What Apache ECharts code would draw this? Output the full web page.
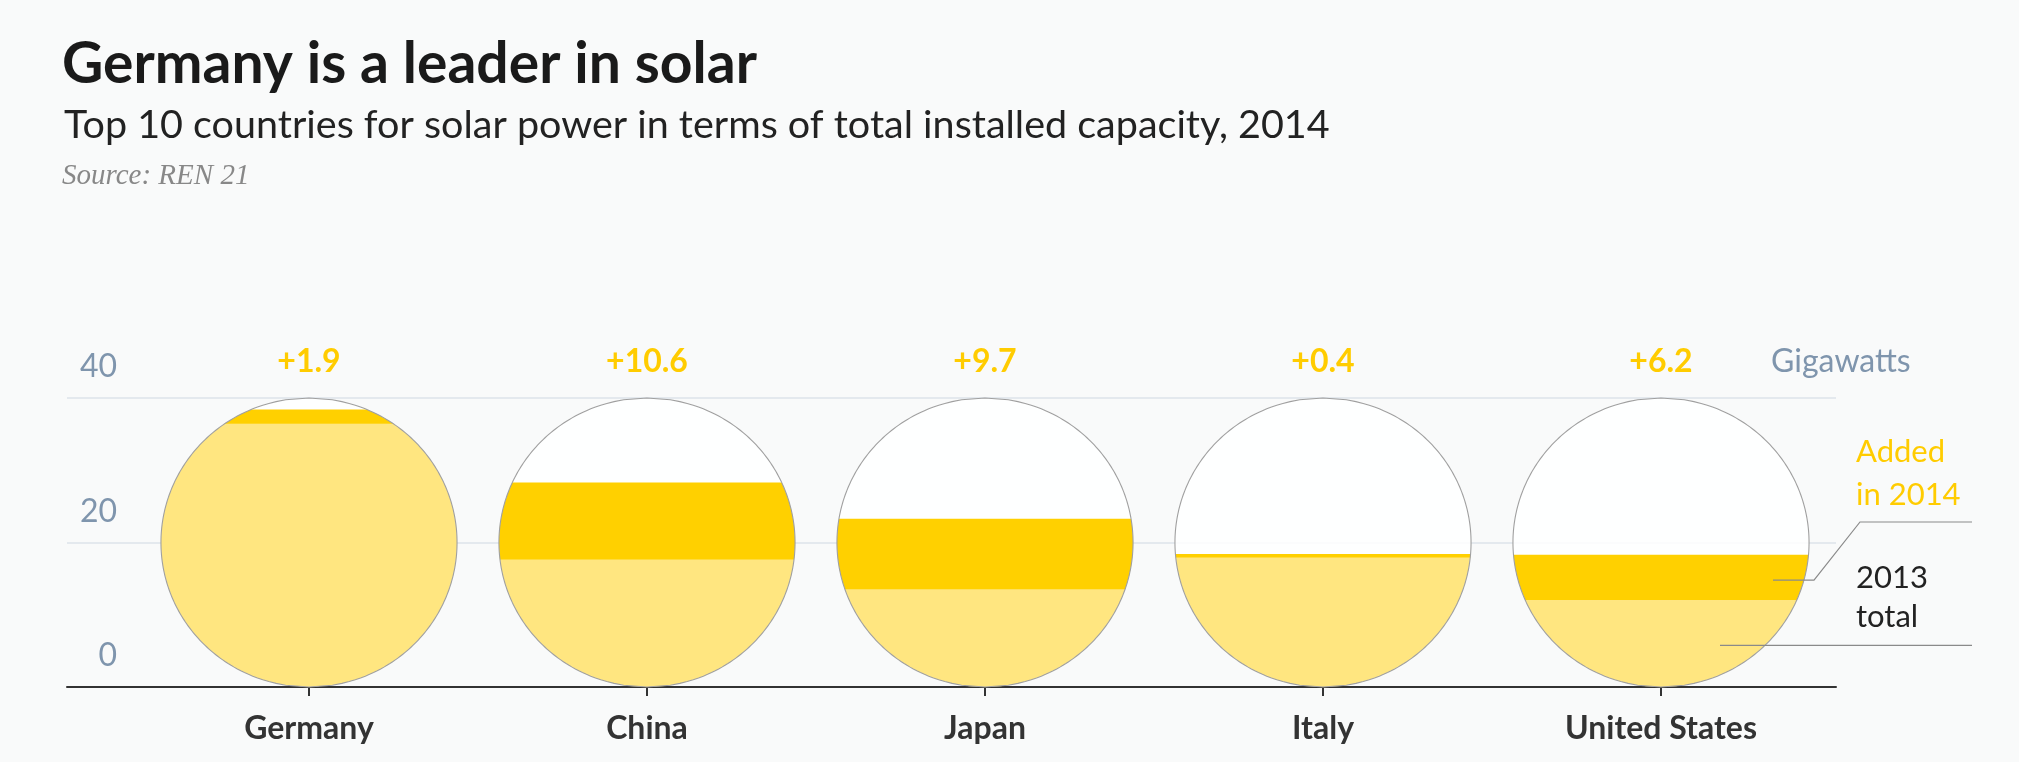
<!DOCTYPE html>
<html>
<head>
<meta charset="utf-8">
<script src="https://cdn.jsdelivr.net/npm/echarts@6/dist/echarts.min.js"></script>
<style>
html,body{margin:0;padding:0;background:#f9fafa;}
#chart{width:2019px;height:762px;}
</style>
</head>
<body>
<div id="chart"></div>
<script>
// ---- data ----
const categories = ['Germany', 'China', 'Japan', 'Italy', 'United States'];
const total2013 = [36.5, 17.7, 13.6, 18.0, 12.1];
const added2014 = [1.9, 10.6, 9.7, 0.4, 6.2];
const yTicks = [0, 20, 40];
const yMax = 40;

const DARK = '#FFD000';
const LIGHT = '#FFE680';
const FONT = 'Lato';

function bandPolygon(cx, cy, rx, ry, yTop, yBot, n) {
  yTop = Math.max(yTop, cy - ry);
  yBot = Math.min(yBot, cy + ry);
  const left = [], right = [];
  for (let i = 0; i <= n; i++) {
    const y = yTop + (yBot - yTop) * i / n;
    const t = (y - cy) / ry;
    const dx = rx * Math.sqrt(Math.max(0, 1 - t * t));
    left.push([cx - dx, y]);
    right.push([cx + dx, y]);
  }
  return left.concat(right.reverse());
}

const seriesData = categories.map((c, i) => [i, total2013[i], added2014[i]]);

const chart = echarts.init(document.getElementById('chart'), null, {renderer: 'canvas'});

const option = {
  backgroundColor: '#f9fafa',
  animation: false,
  grid: [
    {left: 67, right: 183, top: 398, bottom: 75, containLabel: false},
    {left: 140, right: 189, top: 398, bottom: 75, containLabel: false}
  ],
  xAxis: [
    {
      gridIndex: 0, type: 'value', min: 0, max: 1,
      axisLine: {show: true, onZero: false, lineStyle: {color: '#333', width: 2}},
      axisTick: {show: false}, axisLabel: {show: false}, splitLine: {show: false}
    },
    {
      gridIndex: 1, type: 'category', data: categories, boundaryGap: true,
      axisLine: {show: false},
      axisTick: {show: true, alignWithLabel: true, length: 9, lineStyle: {color: '#333', width: 2}},
      axisLabel: {color: '#333', fontFamily: FONT, fontWeight: 'bold', fontSize: 32, margin: 26}
    }
  ],
  yAxis: [
    {
      gridIndex: 0, type: 'value', min: 0, max: yMax, interval: 20,
      axisLine: {show: false},
      axisTick: {show: false},
      splitLine: {show: true, lineStyle: {color: '#dde3ea', width: 1.5}},
      axisLabel: {
        inside: true, align: 'right', margin: 50,
        color: '#7f95ad', fontFamily: FONT, fontSize: 32,
        lineHeight: 62, verticalAlign: 'bottom',
        formatter: v => yTicks.indexOf(v) >= 0 ? String(v) : ''
      }
    },
    {gridIndex: 1, type: 'value', min: 0, max: yMax, show: false}
  ],
  series: [{
    type: 'custom',
    xAxisIndex: 1, yAxisIndex: 1,
    data: seriesData,
    encode: {x: 0, y: 1},
    clip: false,
    z: 5,
    renderItem: function (params, api) {
      const idx = api.value(0);
      const v13 = api.value(1);
      const add = api.value(2);
      const p0 = api.coord([idx, 0]);
      const pTop = api.coord([idx, yMax]);
      const p13 = api.coord([idx, v13]);
      const p14 = api.coord([idx, v13 + add]);
      const bw = api.size([1, 0])[0];
      const cx = p0[0];
      const ry = (p0[1] - pTop[1]) / 2;
      const cy = (p0[1] + pTop[1]) / 2;
      const rx = bw * 0.438;
      return {
        type: 'group',
        children: [
          {type: 'polygon', shape: {points: bandPolygon(cx, cy, rx, ry, pTop[1], p0[1], 120)},
           style: {fill: 'rgba(255,255,255,0.85)'}},
          {type: 'polygon', shape: {points: bandPolygon(cx, cy, rx, ry, p13[1], p0[1], 120)},
           style: {fill: LIGHT}},
          {type: 'polygon', shape: {points: bandPolygon(cx, cy, rx, ry, p14[1], p13[1] + 0.5, 60)},
           style: {fill: DARK}},
          {type: 'polygon', shape: {points: bandPolygon(cx, cy, rx, ry, pTop[1], p0[1], 160)},
           style: {fill: 'none', stroke: '#a0a0a0', lineWidth: 1.1}},
          {type: 'text', style: {text: '+' + add.toFixed(1), x: cx, y: pTop[1] - 36,
            textAlign: 'center', textVerticalAlign: 'middle',
            font: 'bold 32px ' + FONT, fill: '#FFCC00'}}
        ]
      };
    }
  }]
};
chart.setOption(option);

// annotations: titles and legend attached to the last circle (United States)
const last = categories.length - 1;
const pc = chart.convertToPixel({gridIndex: 1}, [last, 0]);
const pDark = chart.convertToPixel({gridIndex: 1}, [last, total2013[last] + added2014[last] / 2]);
const pLight = chart.convertToPixel({gridIndex: 1}, [last, total2013[last] / 2]);
const ucx = pc[0];
const endX = 1972;
chart.setOption({
  graphic: [
    {type: 'text', style: {text: 'Germany is a leader in solar', x: 62, y: 65, textVerticalAlign: 'middle',
      font: 'bold 57px ' + FONT, fill: '#1a1a1a'}},
    {type: 'text', style: {text: 'Top 10 countries for solar power in terms of total installed capacity, 2014', x: 64, y: 125,
      textVerticalAlign: 'middle', font: '39.5px ' + FONT, fill: '#222'}},
    {type: 'text', style: {text: 'Source: REN 21', x: 62, y: 176, textVerticalAlign: 'middle',
      font: 'italic 29px "Liberation Serif"', fill: '#888'}},
    {type: 'text', style: {text: 'Gigawatts', x: 1771, y: 362, textVerticalAlign: 'middle',
      font: '32px ' + FONT, fill: '#7f95ad'}},
    {type: 'text', style: {text: 'Added', x: 1856, y: 452, textVerticalAlign: 'middle', font: '31px ' + FONT, fill: '#FFCC00'}},
    {type: 'text', style: {text: 'in 2014', x: 1856, y: 495, textVerticalAlign: 'middle', font: '31px ' + FONT, fill: '#FFCC00'}},
    {type: 'text', style: {text: '2013', x: 1856, y: 578, textVerticalAlign: 'middle', font: '31px ' + FONT, fill: '#222'}},
    {type: 'text', style: {text: 'total', x: 1856, y: 617, textVerticalAlign: 'middle', font: '31px ' + FONT, fill: '#222'}},
    {type: 'polyline', shape: {points: [[ucx + 112, pDark[1] + 3], [ucx + 153, pDark[1] + 3], [ucx + 199, 522], [endX, 522]]},
      style: {stroke: '#8a8a8a', lineWidth: 1.2, fill: 'none'}, z: 10},
    {type: 'polyline', shape: {points: [[ucx + 59, pLight[1] + 2], [endX, pLight[1] + 2]]},
      style: {stroke: '#8a8a8a', lineWidth: 1.2, fill: 'none'}, z: 10}
  ]
});
</script>
</body>
</html>
